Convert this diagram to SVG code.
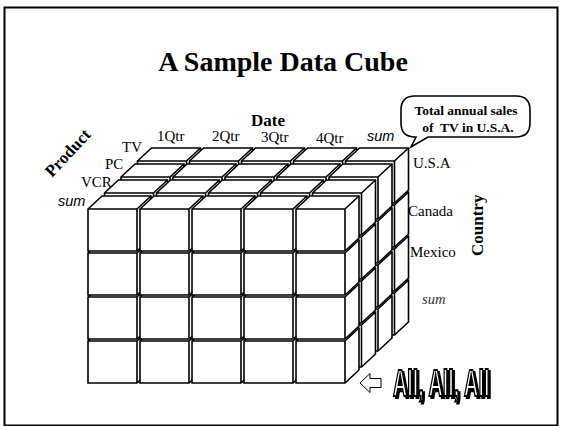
<svg xmlns="http://www.w3.org/2000/svg" width="565" height="426" viewBox="0 0 565 426">
  <style>
    .frame { fill: #fff; stroke: #000; stroke-width: 2; }
    .title { font-family: "Liberation Serif", "Times New Roman", serif; font-weight: bold; font-size: 28px; fill: #000; }
    .axis { font-family: "Liberation Serif", "Times New Roman", serif; font-weight: bold; font-size: 17px; fill: #000; }
    .lbl { font-family: "Liberation Serif", "Times New Roman", serif; font-size: 15px; fill: #000; }
    .sum { font-family: "Liberation Sans", Arial, sans-serif; font-style: italic; font-size: 14.5px; fill: #000; }
    .sum-serif { font-family: "Liberation Serif", "Times New Roman", serif; font-style: italic; font-size: 14.5px; fill: #333; }
    .note { font-family: "Liberation Serif", "Times New Roman", serif; font-weight: bold; font-size: 13.5px; fill: #000; }
    .face { fill: #fff; stroke: #000; stroke-width: 1.6; stroke-linejoin: miter; }
    .edge { fill: none; stroke: #000; stroke-width: 1.6; }
    .all { font-family: "Liberation Sans", Arial, sans-serif; font-weight: bold; font-size: 36px; fill: #fff; stroke: #000; stroke-width: 2.2; paint-order: normal; }
  </style>
  <defs>
    <!-- one cell: front face 49x42, receding 14 right and 13 up -->
    <g id="cube">
      <path class="face" d="M0,0 L14,-13 H63 V29 L49,42 H0 Z"/>
      <path class="edge" d="M0,0 H49 V42 M49,0 L63,-13"/>
    </g>
    <!-- five quarters side by side (1Qtr..4Qtr, sum) -->
    <g id="row">
      <use href="#cube" x="0" y="0"/>
      <use href="#cube" x="52" y="0"/>
      <use href="#cube" x="104" y="0"/>
      <use href="#cube" x="156" y="0"/>
      <use href="#cube" x="208" y="0"/>
    </g>
    <!-- four countries stacked, drawn bottom row first -->
    <g id="slab">
      <use href="#row" x="0" y="132"/>
      <use href="#row" x="0" y="88"/>
      <use href="#row" x="0" y="44"/>
      <use href="#row" x="0" y="0"/>
    </g>
    <!-- solid offset shadow behind the outlined lettering -->
    <filter id="drop" x="-10%" y="-20%" width="130%" height="150%">
      <feOffset in="SourceAlpha" dx="3" dy="2" result="off"/>
      <feMerge>
        <feMergeNode in="off"/>
        <feMergeNode in="SourceGraphic"/>
      </feMerge>
    </filter>
  </defs>

  <rect class="frame" x="4.5" y="7.5" width="553" height="418"/>

  <text class="title" x="283" y="71" text-anchor="middle">A Sample Data Cube</text>

  <!-- product slabs, back to front -->
  <g id="cube-body">
    <g id="slab-tv"><use href="#slab" x="137.5" y="161"/></g>
    <g id="slab-pc"><use href="#slab" x="121" y="177"/></g>
    <g id="slab-vcr"><use href="#slab" x="104.5" y="193"/></g>
    <g id="slab-sum"><use href="#slab" x="88" y="209"/></g>
  </g>

  <!-- Date axis -->
  <g id="date-axis">
    <text class="axis" x="268" y="126" text-anchor="middle">Date</text>
    <text class="lbl" x="157" y="141">1Qtr</text>
    <text class="lbl" x="212" y="141">2Qtr</text>
    <text class="lbl" x="261" y="142">3Qtr</text>
    <text class="lbl" x="316" y="143">4Qtr</text>
    <text class="sum" x="367" y="141">sum</text>
  </g>

  <!-- Product axis -->
  <g id="product-axis">
    <text class="axis" x="0" y="0" transform="translate(52,178) rotate(-47)">Product</text>
    <text class="lbl" x="122" y="152">TV</text>
    <text class="lbl" x="105" y="169">PC</text>
    <text class="lbl" x="81" y="187">VCR</text>
    <text class="sum" x="58" y="206">sum</text>
  </g>

  <!-- Country axis -->
  <g id="country-axis">
    <text class="axis" x="0" y="0" font-size="18" transform="translate(483,256) rotate(-90)">Country</text>
    <text class="lbl" x="413" y="168">U.S.A</text>
    <text class="lbl" x="408" y="216">Canada</text>
    <text class="lbl" x="410" y="257">Mexico</text>
    <text class="sum-serif" x="422" y="304">sum</text>
  </g>

  <!-- callout on the TV / sum / U.S.A corner -->
  <g id="callout">
    <path class="face" stroke-width="1.2" d="M415,96 H516 Q530,96 530,110 V123 Q530,137 516,137 H428 L411,147 L416,137 H415 Q401,137 401,123 V110 Q401,96 415,96 Z"/>
    <text class="note" x="466" y="115" text-anchor="middle">Total annual sales</text>
    <text class="note" x="468" y="132" text-anchor="middle" xml:space="preserve">of  TV in U.S.A.</text>
  </g>

  <!-- grand total marker -->
  <g id="all-marker">
    <polygon points="360,383 370,373.5 370,378.5 381,378.5 381,387.5 370,387.5 370,392.5" fill="#fff" stroke="#000" stroke-width="1"/>
    <text class="all" x="0" y="0" filter="url(#drop)" transform="translate(393,396) scale(0.55,1)">All, All, All</text>
  </g>
</svg>
